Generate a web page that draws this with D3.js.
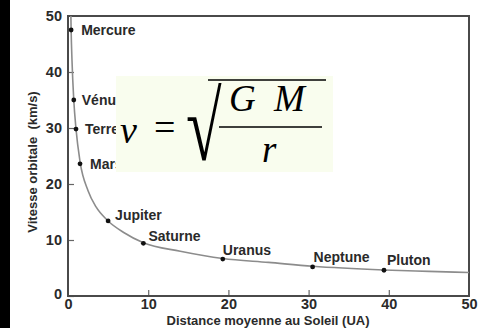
<!DOCTYPE html>
<html>
<head>
<meta charset="utf-8">
<script src="https://cdn.jsdelivr.net/npm/d3@7"></script>
<style>
  html, body { margin: 0; padding: 0; background: #fff; }
  svg { display: block; }
</style>
</head>
<body>
<svg id="chart" width="485" height="328"></svg>
<script>
// Planets: mean distance to the Sun (AU) and orbital speed (km/s)
const planets = ["Mercure", "Vénus", "Terre", "Mars", "Jupiter", "Saturne", "Uranus", "Neptune", "Pluton"];
const distances = [0.39, 0.72, 1.0, 1.5, 5.0, 9.4, 19.3, 30.5, 39.4];
const speeds = [47.5, 35.0, 29.8, 23.6, 13.4, 9.4, 6.6, 5.2, 4.6];

// Points along the drawn trend curve (AU, km/s)
const curveDistances = [0.36, 0.39, 0.5, 0.72, 1.0, 1.5, 2.5, 3.5, 5.0, 7.0, 9.4, 14, 19.3, 25, 30.5, 39.4, 45, 50];
const curveSpeeds = [50, 47.5, 42, 35, 29.8, 24, 18.8, 15.9, 13.4, 11.3, 9.5, 8.0, 6.7, 6.0, 5.3, 4.65, 4.4, 4.2];

// Axis ticks
const xTicks = [0, 10, 20, 30, 40, 50];
const yTicks = [0, 10, 20, 30, 40, 50];

// Label offsets (px) from each planet's dot: [dx, dy]
const labelOffsets = {
  "Mercure": [10, 0], "Vénus": [8, 0], "Terre": [9, 0], "Mars": [10, 0],
  "Jupiter": [7, -6], "Saturne": [5, -7], "Uranus": [0, -9],
  "Neptune": [1, -10], "Pluton": [3, -10]
};

const svg = d3.select("#chart");
const W = 485, H = 328;
const m = { left: 68, right: 16, top: 16, bottom: 32 };

// dark strip on the left edge
svg.append("rect").attr("x", 0).attr("y", 0).attr("width", 10).attr("height", H).attr("fill", "#000");

const x = d3.scaleLinear().domain([0, 50]).range([m.left, W - m.right]);
const y = d3.scaleLinear().domain([0, 50]).range([H - m.bottom, m.top]);

const textColor = "#2a2a2a";
const font = "'Liberation Sans', Arial, sans-serif";

// axes with inward ticks
const xAxis = svg.append("g")
  .attr("transform", `translate(0,${y(0)})`)
  .call(d3.axisBottom(x).tickValues(xTicks).tickSizeInner(-6).tickSizeOuter(0).tickPadding(4));
const yAxis = svg.append("g")
  .attr("transform", `translate(${x(0)},0)`)
  .call(d3.axisLeft(y).tickValues(yTicks).tickSizeInner(-6).tickSizeOuter(0).tickPadding(6));

[xAxis, yAxis].forEach(g => {
  g.select(".domain").remove();
  g.selectAll(".tick line").attr("stroke", "#666").attr("stroke-width", 1.2);
  g.selectAll(".tick text")
    .attr("fill", textColor)
    .style("font-family", font)
    .style("font-size", "14.5px")
    .style("font-weight", "bold");
});
xAxis.selectAll(".tick text").attr("dy", "0.62em");
yAxis.selectAll(".tick").filter(d => d === 50).select("line").remove();
xAxis.selectAll(".tick").filter(d => d === 50 || d === 0).select("line").remove();
yAxis.selectAll(".tick").filter(d => d === 0).select("text").attr("dy", "0.2em");

// frame
svg.append("rect")
  .attr("x", x(0)).attr("y", y(50))
  .attr("width", x(50) - x(0)).attr("height", y(0) - y(50))
  .attr("fill", "none").attr("stroke", "#4a4a4a").attr("stroke-width", 2);

// trend curve
const curveData = curveDistances.map((d, i) => [d, curveSpeeds[i]]);
svg.append("path")
  .datum(curveData)
  .attr("fill", "none")
  .attr("stroke", "#8c8c8c")
  .attr("stroke-width", 1.6)
  .attr("d", d3.line().x(d => x(d[0])).y(d => y(d[1])).curve(d3.curveMonotoneX));

// planet dots and labels
const pts = planets.map((p, i) => ({ name: p, d: distances[i], v: speeds[i] }));
svg.selectAll("circle.planet").data(pts).join("circle")
  .attr("class", "planet")
  .attr("cx", d => x(d.d)).attr("cy", d => y(d.v)).attr("r", 2.4)
  .attr("fill", "#111");
svg.selectAll("text.planet").data(pts).join("text")
  .attr("class", "planet")
  .attr("x", d => x(d.d) + labelOffsets[d.name][0])
  .attr("y", d => y(d.v) + labelOffsets[d.name][1])
  .attr("dy", "0.35em")
  .attr("fill", textColor)
  .style("font-family", font)
  .style("font-size", "14px")
  .style("font-weight", "bold")
  .text(d => d.name);

// axis titles
svg.append("text")
  .attr("x", 268).attr("y", 324.5)
  .attr("text-anchor", "middle")
  .attr("fill", textColor)
  .style("font-family", font).style("font-size", "13px").style("font-weight", "bold")
  .text("Distance moyenne au Soleil (UA)");
svg.append("text")
  .attr("transform", "translate(37,162) rotate(-90)")
  .attr("text-anchor", "middle")
  .attr("fill", textColor)
  .attr("xml:space", "preserve")
  .style("font-family", font).style("font-size", "13px").style("font-weight", "bold")
  .style("white-space", "pre")
  .text("Vitesse orbitale  (km/s)");

// formula panel: v = sqrt(G M / r)
const f = svg.append("g");
f.append("rect").attr("x", 116).attr("y", 76).attr("width", 217).attr("height", 96).attr("fill", "#f9fdee");
const serif = "'Liberation Serif', 'Times New Roman', serif";
f.append("text").attr("x", 120).attr("y", 143)
  .style("font-family", serif).style("font-style", "italic").style("font-size", "38px").text("v");
f.append("text").attr("x", 154).attr("y", 140)
  .style("font-family", serif).style("font-size", "38px").text("=");
f.append("text").attr("x", 186).attr("y", 160)
  .attr("transform", "translate(186,160) scale(0.9,1.35) translate(-186,-160)")
  .style("font-family", serif).style("font-size", "72px").text("√");
f.append("line").attr("x1", 208).attr("x2", 326).attr("y1", 80).attr("y2", 80)
  .attr("stroke", "#000").attr("stroke-width", 1.6);
f.append("text").attr("x", 229).attr("y", 111)
  .style("font-family", serif).style("font-style", "italic").style("font-size", "37px").text("G");
f.append("text").attr("x", 274).attr("y", 111)
  .style("font-family", serif).style("font-style", "italic").style("font-size", "37px").text("M");
f.append("line").attr("x1", 219).attr("x2", 322).attr("y1", 127).attr("y2", 127)
  .attr("stroke", "#000").attr("stroke-width", 1.6);
f.append("text").attr("x", 262).attr("y", 162)
  .style("font-family", serif).style("font-style", "italic").style("font-size", "37px").text("r");
</script>
</body>
</html>
